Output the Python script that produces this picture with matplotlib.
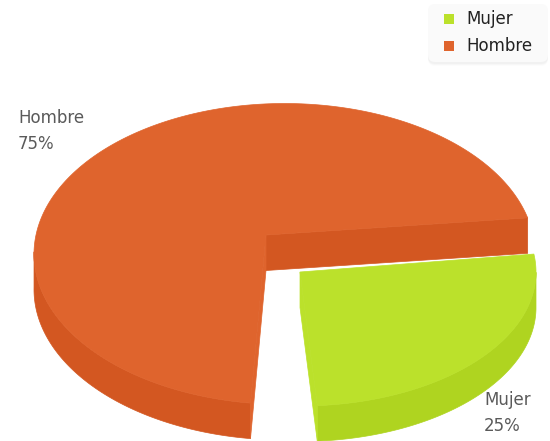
import numpy as np
import matplotlib
matplotlib.use("Agg")
import matplotlib.pyplot as plt
from matplotlib.patches import Polygon, FancyBboxPatch
from matplotlib.lines import Line2D

categories = ["Mujer", "Hombre"]
shares = [25, 75]
tops = ["#BBE12B", "#DF642D"]
sides = ["#AFD420", "#D35721"]

fig = plt.figure(figsize=(5.5, 4.41), dpi=100)
ax = fig.add_axes([0, 0, 1, 1])
ax.set_xlim(0, 550); ax.set_ylim(441, 0); ax.axis("off")

DEPTH = 35.5
# layout of each slice: apex, arc centre, radii, start angle, angular stretch
geo = {
    "Hombre": dict(apex=(266, 235), c=(284.5, 254), r=(250.5, 150.5), start=97.8, adj=-21.7),
    "Mujer": dict(apex=(300, 272), c=(300, 272), r=(236, 134), start=-7.7, adj=3.5),
}

def arc(g, share):
    sweep = 360 * share / 100 + g["adj"]
    t = np.radians(np.linspace(g["start"], g["start"] + sweep, 300))
    return g["c"][0] + g["r"][0] * np.cos(t), g["c"][1] + g["r"][1] * np.sin(t)

def draw(cat, share, top, side, z):
    g = geo[cat]
    x, y = arc(g, share)
    ax_, ay_ = g["apex"]
    # outer wall
    if cat == "Hombre":
        m = np.degrees(np.arctan2((y - g["c"][1]) / g["r"][1], (x - g["c"][0]) / g["r"][0])) % 360
        keep = m < 181
        wx, wy = x[keep], y[keep]
    else:
        keep = y >= g["c"][1]
        wx, wy = x[keep], y[keep]
    ax.add_patch(Polygon(np.r_[np.c_[wx, wy], np.c_[wx, wy + DEPTH][::-1]], fc=side, ec=side, lw=.5, zorder=z))
    if cat == "Hombre":
        # back cut face under the right edge
        ax.add_patch(Polygon([(ax_, ay_), (x[-1], y[-1]), (x[-1], y[-1] + DEPTH), (ax_, ay_ + DEPTH)],
                             fc=side, ec=side, lw=.5, zorder=z))
    # cut face facing the gap, same tone as the top
    ex, ey = (x[0], y[0]) if cat == "Hombre" else (x[-1], y[-1])
    ax.add_patch(Polygon([(ax_, ay_), (ex, ey), (ex, ey + DEPTH), (ax_, ay_ + DEPTH)],
                         fc=top, ec=top, lw=.5, zorder=z + .1))
    ax.add_patch(Polygon(np.r_[[(ax_, ay_)], np.c_[x, y]], fc=top, ec=top, lw=.5, zorder=z + .2))

for i, (cat, sh) in enumerate(zip(categories, shares)):
    draw(cat, sh, tops[i], sides[i], 2 if cat == "Mujer" else 1)

# data labels
pos = {"Hombre": (18, 131), "Mujer": (484, 413)}
for cat, sh in zip(categories, shares):
    ax.text(*pos[cat], f"{cat}\n{sh}%", color="#5A5A5A", fontsize=12, family="DejaVu Sans",
            va="center", ha="left", linespacing=1.62, zorder=5)

# legend
for off, a in [(3, .012), (2, .018), (1, .025)]:
    ax.add_patch(FancyBboxPatch((428, 5 + off), 120, 58, boxstyle="round,pad=0,rounding_size=7",
                                fc="#000000", ec="none", alpha=a, zorder=6))
ax.add_patch(FancyBboxPatch((428, 4), 120, 58, boxstyle="round,pad=0,rounding_size=7",
                            fc="#FAFAFA", ec="none", zorder=7))
for cat, col, yy in zip(categories, tops, [19, 46]):
    ax.add_line(Line2D([449], [yy], marker="s", ms=7.5, color=col, ls="none", mew=0, zorder=8))
    ax.text(466, yy, cat, color="#222222", fontsize=12, family="DejaVu Sans", va="center", ha="left", zorder=8)

fig.savefig("out.png", dpi=100)
